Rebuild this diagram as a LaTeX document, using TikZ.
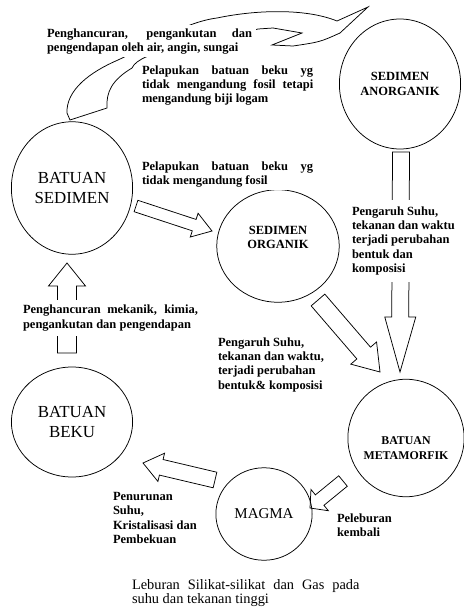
\documentclass[tikz,border=0pt]{standalone}
\usepackage{fontspec}
\setmainfont{Liberation Serif}
\usetikzlibrary{calc,shapes.geometric}
\hyphenpenalty=10000
\exhyphenpenalty=10000

\newcommand{\blockarrow}[5]{
  \path ($(#2)!#5!(#1)$) coordinate (hb);
  \draw[arrowline] ($(#1)!#3!90:(#2)$) -- ($(hb)!#3!90:(#2)$) -- ($(hb)!#4!90:(#2)$) -- (#2)
    -- ($(hb)!#4!-90:(#2)$) -- ($(hb)!#3!-90:(#2)$) -- ($(#1)!#3!-90:(#2)$) -- cycle;
}

\begin{document}
\begin{tikzpicture}[
  x=0.8pt, y=-0.8pt,
  rock/.style={ellipse, draw, line width=0.6pt, inner sep=0pt, align=center},
  big/.style={font=\fontsize{13.5}{16}\selectfont},
  small/.style={font=\fontsize{10}{11.5}\selectfont\bfseries},
  note/.style={small, fill=white, inner xsep=3pt, inner ysep=2.5pt, anchor=north west},
  arrowline/.style={line width=0.6pt, line join=miter},
]
  \useasboundingbox (0,0) rectangle (463,610);

  \node[rock, small, minimum width=97pt, minimum height=104pt] (sanorg) at (400,84) {SEDIMEN\\ANORGANIK};
  \node[rock, big, minimum width=97pt, minimum height=106pt] (bsed) at (72,188) {BATUAN\\SEDIMEN};
  \node[rock, minimum width=98pt, minimum height=90pt] (sorg) at (278,246) {};
  \node[small, align=center] (sorgname) at ([yshift=7pt]sorg.center) {SEDIMEN\\ORGANIK};
  \node[rock, minimum width=93pt, minimum height=94pt] (bmeta) at (406,438) {};
  \node[small, font=\fontsize{9.5}{11.5}\selectfont\bfseries, align=center] (bmetaname) at ([yshift=-8pt]bmeta.center) {BATUAN\\METAMORFIK};
  \node[rock, big, minimum width=97pt, minimum height=88pt] (bbeku) at (72,422) {BATUAN\\BEKU};
  \node[rock, font=\fontsize{12}{14}\selectfont, minimum width=77pt, minimum height=74pt] (magma) at (264,514) {MAGMA};

  \coordinate (bsedO) at (136,206);  \coordinate (sorgI) at (212,231);
  \coordinate (sorgO) at (318,300);  \coordinate (bmetaI) at (380,372);
  \coordinate (sanorgO) at (401,152);\coordinate (bmetaT) at (400,372);
  \coordinate (bmetaO) at (343,481); \coordinate (magmaI) at (310,508);
  \coordinate (magmaO) at (215,480); \coordinate (bbekuI) at (143,463);
  \coordinate (bbekuO) at (67,353);  \coordinate (bsedI) at (67,263);

  \blockarrow{bsedO}{sorgI}{4.8pt}{10pt}{15pt}
  \blockarrow{sorgO}{bmetaI}{7.2pt}{13.6pt}{20pt}
  \blockarrow{sanorgO}{bmetaT}{6.8pt}{12.4pt}{44pt}
  \blockarrow{bmetaO}{magmaI}{5.4pt}{11pt}{10pt}
  \blockarrow{magmaO}{bbekuI}{6.4pt}{11.6pt}{15pt}
  \blockarrow{bbekuO}{bsedI}{7.6pt}{14.8pt}{18.4pt}

  \draw[arrowline] (70,120) -- (67,113) .. controls (66,90) and (90,72) .. (118,60)
    .. controls (150,45) and (185,22) .. (217,18) .. controls (255,10) and (305,8) .. (337,21)
    -- (368,7) -- (340,33) .. controls (320,42) .. (293,46) -- (272,45) -- (302,33)
    -- (273,28) -- (258,29) .. controls (200,45) and (140,50) .. (132,68)
    .. controls (112,80) and (106,92) .. (107,108) -- cycle;

  \node[note, text width=164pt, align=justify] (erosi) at (43,25)
    {Penghancuran, pengankutan dan\linebreak pengendapan oleh air, angin, sungai};
  \node[note, text width=137pt, align=justify] (logam) at (138,62)
    {Pelapukan batuan beku yg\linebreak tidak mengandung fosil tetapi\linebreak mengandung biji logam};
  \node[note, text width=137pt, align=justify] (fosil) at (138,158)
    {Pelapukan batuan beku yg\linebreak tidak mengandung fosil};
  \node[note, align=left, inner ysep=5pt] (suhu1) at (348,200)
    {Pengaruh Suhu,\\tekanan dan waktu\\terjadi perubahan\\bentuk dan\\komposisi};
  \node[note, text width=140pt, align=justify, inner ysep=4pt] (mekanik) at (19,300)
    {Penghancuran mekanik, kimia,\linebreak pengankutan dan pengendapan};
  \node[note, align=left] (suhu2) at (214,334)
    {Pengaruh Suhu,\\tekanan dan waktu,\\terjadi perubahan\\bentuk\& komposisi};
  \node[note, align=left] (beku) at (109,489)
    {Penurunan\\Suhu,\\Kristalisasi dan\\Pembekuan};
  \node[note, align=left] (lebur) at (333,510)
    {Peleburan\\kembali};
  \node[note, font=\fontsize{11.5}{11}\selectfont, text width=182pt, align=justify] (silikat) at (128,576)
    {Leburan Silikat-silikat dan Gas pada\linebreak suhu dan tekanan tinggi};
\end{tikzpicture}
\end{document}
